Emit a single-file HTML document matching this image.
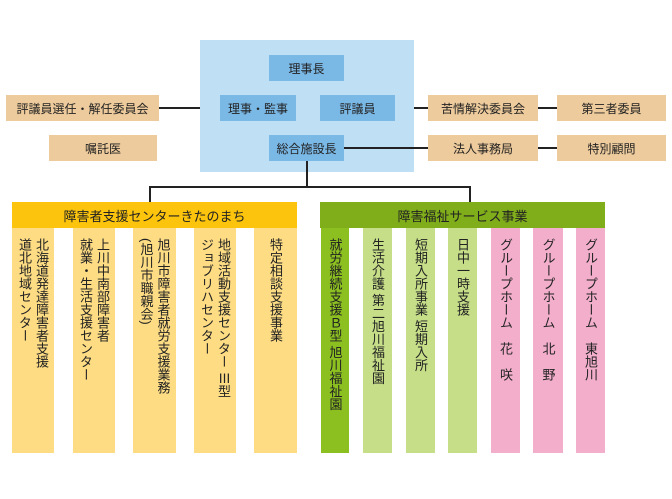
<!DOCTYPE html>
<html><head><meta charset="utf-8"><style>
body{margin:0;width:672px;height:499px;background:#fff;position:relative;font-family:"Liberation Sans","Noto Sans CJK JP",sans-serif;color:#222;overflow:hidden}
.b{position:absolute;display:flex;align-items:center;justify-content:center;font-size:12px}
.t{background:#eecb9c}.u{background:#7ab8e6}
.l{position:absolute;background:#222}
.c{position:absolute;top:228px;height:225px;writing-mode:vertical-rl;font-size:13px;line-height:17px;padding-top:10px;box-sizing:border-box;display:flex;align-items:center;justify-content:flex-start}
.y{background:#fddc84}.g{background:#c6de88}.p{background:#f2aecb}
</style></head><body>
<div class="b" style="left:200px;top:40px;width:214px;height:132px;background:#bfdff5"></div>
<div class="b u" style="left:269px;top:55px;width:75px;height:26px">理事長</div>
<div class="b u" style="left:220px;top:95px;width:76px;height:26px">理事・監事</div>
<div class="b u" style="left:320px;top:95px;width:75px;height:26px">評議員</div>
<div class="b u" style="left:269px;top:135px;width:75px;height:26px">総合施設長</div>
<div class="b t" style="left:6px;top:95px;width:153px;height:26px">評議員選任・解任委員会</div>
<div class="b t" style="left:49px;top:135px;width:108px;height:26px">嘱託医</div>
<div class="b t" style="left:428px;top:95px;width:110px;height:26px">苦情解決委員会</div>
<div class="b t" style="left:557px;top:95px;width:109px;height:26px">第三者委員</div>
<div class="b t" style="left:428px;top:135px;width:110px;height:26px">法人事務局</div>
<div class="b t" style="left:557px;top:135px;width:109px;height:26px">特別顧問</div>
<div class="l" style="left:159px;top:107px;width:41px;height:2px"></div>
<div class="l" style="left:414px;top:107px;width:14px;height:2px"></div>
<div class="l" style="left:538px;top:107px;width:19px;height:2px"></div>
<div class="l" style="left:344px;top:147px;width:84px;height:2px"></div>
<div class="l" style="left:538px;top:147px;width:19px;height:2px"></div>
<div class="l" style="left:306px;top:161px;width:2px;height:26px"></div>
<div class="l" style="left:149px;top:186px;width:322px;height:2px"></div>
<div class="l" style="left:149px;top:186px;width:2px;height:16px"></div>
<div class="l" style="left:469px;top:186px;width:2px;height:16px"></div>
<div class="b" style="left:12px;top:202px;width:285px;height:26px;background:#fcc40c;font-size:13px">障害者支援センターきたのまち</div>
<div class="b" style="left:320px;top:202px;width:285px;height:26px;background:#80ad1a;font-size:13px">障害福祉サービス事業</div>
<div class="c y" style="left:12px;width:42px">北海道発達障害者支援<br>道北地域センター</div>
<div class="c y" style="left:73px;width:42px">上川中南部障害者<br>就業・生活支援センター</div>
<div class="c y" style="left:133px;width:43px">旭川市障害者就労支援業務<br>(旭川市職親会)</div>
<div class="c y" style="left:194px;width:42px">地域活動支援センター Ⅲ型<br>ジョブリハセンター</div>
<div class="c y" style="left:254px;width:43px">特定相談支援事業</div>
<div class="c" style="left:321px;width:28px;background:#8cc021">就労継続支援Ｂ型 旭川福祉園</div>
<div class="c g" style="left:363px;width:29px">生活介護 第二旭川福祉園</div>
<div class="c g" style="left:406px;width:29px">短期入所事業 短期入所</div>
<div class="c g" style="left:448px;width:29px">日中一時支援</div>
<div class="c p" style="left:491px;width:29px">グループホーム　花　咲</div>
<div class="c p" style="left:533px;width:30px">グループホーム　北　野</div>
<div class="c p" style="left:576px;width:29px">グループホーム　東旭川</div>
</body></html>
